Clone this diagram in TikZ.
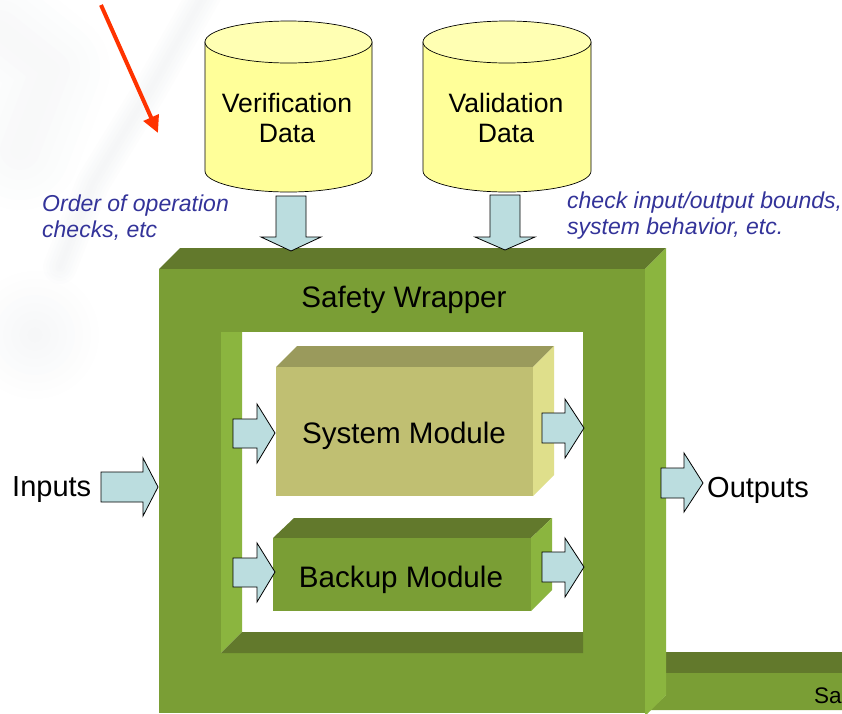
\documentclass[tikz,border=0pt]{standalone}
\usepackage{fontspec}
\setmainfont{Liberation Sans}
\usepackage{tikz}
\usetikzlibrary{arrows.meta}
\definecolor{wrapfront}{HTML}{7A9E35}
\definecolor{wraptop}{HTML}{62792C}
\definecolor{wrapside}{HTML}{8BB53F}
\definecolor{sysfront}{HTML}{C0BF72}
\definecolor{systop}{HTML}{9A9A5C}
\definecolor{sysside}{HTML}{DFDF8B}
\definecolor{cylbody}{HTML}{FFFF99}
\definecolor{cyltop}{HTML}{FFFFB3}
\definecolor{arrowfill}{HTML}{BBDDDF}
\definecolor{notecolor}{HTML}{333399}
\definecolor{redarrow}{HTML}{FF3300}
\definecolor{ghost}{HTML}{DDE1E5}
\tikzset{
  blockarrow/.style={draw=black,fill=arrowfill,line width=0.8pt,line join=miter},
  cylinder/.style={draw=black,line width=0.7pt},
  label/.style={inner sep=0,align=center,font=\fontsize{29.6}{34}\selectfont},
  cyllabel/.style={inner sep=0,align=center,font=\fontsize{26.6}{30}\selectfont},
  note/.style={inner sep=0,align=left,text=notecolor,font=\fontsize{23}{26}\selectfont\itshape},
}

\begin{document}
\begin{tikzpicture}[x=1pt,y=-1pt]
\useasboundingbox (0,0) rectangle (842,713);

% faint background
\foreach \w in {20,40,...,120}
  \draw[ghost,opacity=0.04,line width=\w pt,line cap=round,line join=round] (0,30)--(50,70)--(20,150);
\foreach \w in {4,10,...,34}
  \draw[ghost,opacity=0.06,line width=\w pt,line cap=round,line join=round] (207,-10)--(150,90)--(93,183)--(60,267);
\foreach \r in {8,16,...,64}
  \fill[ghost,opacity=0.035] (35,335) circle (\r pt);

% red arrow
\coordinate (redstart) at (101,5);
\coordinate (redend) at (158,133);
\draw[redarrow,line width=4pt,-{Triangle[length=17pt,width=16pt]}] (redstart)--(redend);

% cylinders
\draw[cylinder,fill=cylbody] (205,42)--(205,171) arc[start angle=180,end angle=360,x radius=83.5,y radius=-21]--(372,42)--cycle;
\draw[cylinder,fill=cyltop] (288.5,42) ellipse[x radius=83.5,y radius=21];
\node[cyllabel] (verif) at (287,118) {Verification\\Data};

\draw[cylinder,fill=cylbody] (423,42)--(423,171) arc[start angle=180,end angle=360,x radius=84,y radius=-21]--(591,42)--cycle;
\draw[cylinder,fill=cyltop] (507,42) ellipse[x radius=84,y radius=21];
\node[cyllabel] (valid) at (506,118) {Validation\\Data};

% notes
\node[note,anchor=base west] (order) at (42,237) {Order of operation\\checks, etc};
\node[note,anchor=base west] (check) at (567,234) {check input/output bounds,\\system behavior, etc.};

% lower right box
\fill[wraptop] (666,652)--(842,652)--(842,673)--(666,673)--cycle;
\fill[wrapfront] (666,673)--(842,673)--(842,710)--(650,710)--(666,695)--cycle;
\node[inner sep=0,anchor=base west,font=\fontsize{22.5}{25}\selectfont] (safetybox) at (814,703) {Sa};

% safety wrapper
\fill[wraptop] (159,269)--(180,248)--(666,248)--(645,269)--cycle;
\fill[wrapside] (645,269)--(666,248)--(666,695)--(645,716)--cycle;
\fill[wrapfront] (159,269)--(645,269)--(645,713)--(159,713)--cycle;
\fill[white] (221,332)--(583,332)--(583,653)--(221,653)--cycle;
\fill[wrapside] (221,332)--(242,332)--(242,632)--(221,653)--cycle;
\fill[wraptop] (242,632)--(583,632)--(583,653)--(221,653)--cycle;
\node[label] (wrapper) at (404,300) {Safety Wrapper};

% system module
\fill[systop] (276,367)--(297,346)--(554,346)--(533,367)--cycle;
\fill[sysside] (533,367)--(554,346)--(554,475)--(533,496)--cycle;
\fill[sysfront] (276,367)--(533,367)--(533,496)--(276,496)--cycle;
\node[label] (system) at (404,436) {System Module};

% backup module
\fill[wraptop] (273,538)--(294,518)--(552,518)--(531,538)--cycle;
\fill[wrapside] (531,538)--(552,518)--(552,590)--(531,611)--cycle;
\fill[wrapfront] (273,538)--(531,538)--(531,611)--(273,611)--cycle;
\node[label] (backup) at (401,580) {Backup Module};

% block arrows
\draw[blockarrow] (276,196)--(306,196)--(306,237)--(321,237)--(291,251)--(261,237)--(276,237)--cycle;
\draw[blockarrow] (490,195)--(520,195)--(520,237)--(535,237)--(505,250)--(475,237)--(490,237)--cycle;
\draw[blockarrow] (101,472)--(143,472)--(143,458)--(158,487)--(143,516)--(143,502)--(101,502)--cycle;
\draw[blockarrow] (233,419)--(257,419)--(257,404)--(275,433)--(257,463)--(257,448)--(233,448)--cycle;
\draw[blockarrow] (233,558)--(257,558)--(257,543)--(275,572)--(257,602)--(257,587)--(233,587)--cycle;
\draw[blockarrow] (542,413)--(565,413)--(565,399)--(584,428)--(565,458)--(565,443)--(542,443)--cycle;
\draw[blockarrow] (542,552)--(565,552)--(565,538)--(584,567)--(565,597)--(565,582)--(542,582)--cycle;
\draw[blockarrow] (661,468)--(684,468)--(684,453)--(703,483)--(684,512)--(684,498)--(661,498)--cycle;

\node[inner sep=0,anchor=west,font=\fontsize{29}{34}\selectfont] (inputs) at (12,490) {Inputs};
\node[inner sep=0,anchor=west,font=\fontsize{29}{34}\selectfont] (outputs) at (707,490) {Outputs};
\end{tikzpicture}
\end{document}
